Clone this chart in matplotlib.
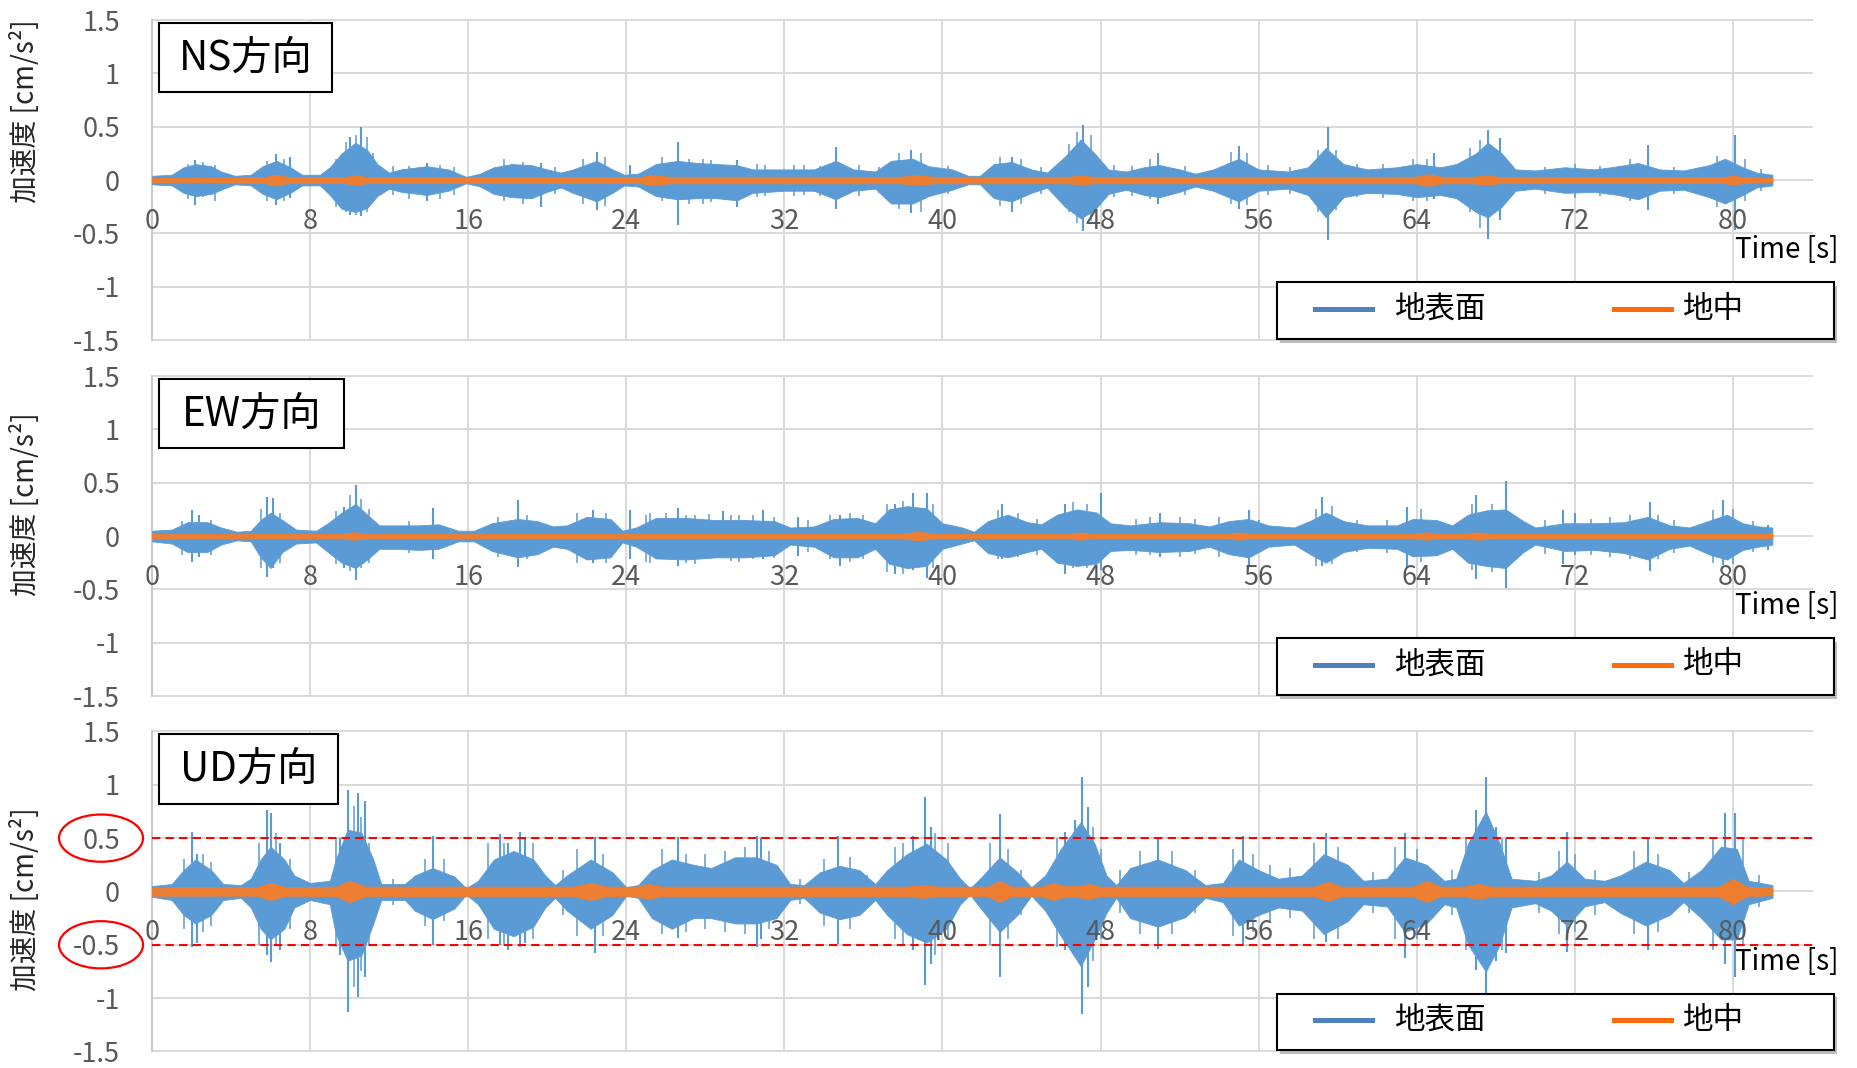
import numpy as np
import matplotlib
matplotlib.use("Agg")
import matplotlib.pyplot as plt
from matplotlib.patches import Rectangle, Ellipse
from matplotlib.lines import Line2D
from matplotlib import transforms

plt.rcParams['font.family'] = ['Noto Sans CJK JP', 'DejaVu Sans']

BLUE = '#5b9bd5'
ORANGE = '#ed7d31'
GRID = '#d9d9d9'

time_ticks = [0, 8, 16, 24, 32, 40, 48, 56, 64, 72, 80]
acc_ticks = [-1.5, -1, -0.5, 0, 0.5, 1, 1.5]
acc_tick_labels = ['-1.5', '-1', '-0.5', '0', '0.5', '1', '1.5']
panel_titles = ['NS方向', 'EW方向', 'UD方向']
legend_labels = ['地表面', '地中']
ud_limit = 0.5

# --- NS: ground surface envelope (body) ---
ns_t = [0, 1, 1.6, 2.2, 3.0, 3.5, 4.2, 5.0, 5.6, 6.3, 7.0, 7.6, 8.5, 9.0, 9.6, 10.3, 10.9, 11.4,
        12.0, 12.6, 13.9, 15.0, 15.9, 16.6, 17.3, 18.2, 19.2, 20.0, 20.7, 21.3, 22.5, 23.3, 23.9,
        24.6, 25.5, 26.6, 27.6, 28.6, 29.6, 30.4, 32.0, 33.5, 34.6, 35.5, 36.6, 37.4, 38.5, 39.3,
        40.5, 41.3, 41.9, 42.6, 43.5, 44.5, 45.3, 46.2, 47.0, 47.7, 48.4, 49.3, 50.2, 51.0, 52.0,
        52.8, 53.7, 55.0, 56.0, 57.5, 58.5, 59.4, 60.3, 61.5, 63.0, 64.0, 65.2, 66.0, 67.0, 67.6,
        68.3, 69.0, 70.0, 71.5, 73.0, 74.2, 75.2, 76.3, 77.5, 78.8, 79.6, 80.5, 81.2, 82.0]
ns_hi = [0.04, 0.05, 0.12, 0.15, 0.13, 0.08, 0.04, 0.05, 0.13, 0.18, 0.12, 0.05, 0.05, 0.12, 0.25,
         0.35, 0.28, 0.15, 0.07, 0.10, 0.13, 0.10, 0.03, 0.06, 0.12, 0.15, 0.14, 0.10, 0.07, 0.10,
         0.18, 0.10, 0.05, 0.06, 0.15, 0.18, 0.16, 0.15, 0.14, 0.10, 0.10, 0.10, 0.18, 0.10, 0.08,
         0.18, 0.20, 0.13, 0.10, 0.04, 0.04, 0.15, 0.17, 0.10, 0.07, 0.22, 0.38, 0.25, 0.10, 0.08,
         0.12, 0.14, 0.10, 0.06, 0.10, 0.20, 0.10, 0.08, 0.12, 0.30, 0.15, 0.10, 0.12, 0.15, 0.12,
         0.15, 0.25, 0.35, 0.25, 0.10, 0.09, 0.12, 0.10, 0.13, 0.16, 0.10, 0.09, 0.14, 0.20, 0.12,
         0.07, 0.05]
ns_lo = [-0.04, -0.05, -0.12, -0.15, -0.13, -0.09, -0.04, -0.05, -0.13, -0.18, -0.12, -0.05, -0.05,
         -0.14, -0.27, -0.30, -0.26, -0.15, -0.08, -0.11, -0.14, -0.10, -0.03, -0.06, -0.13, -0.16,
         -0.17, -0.11, -0.07, -0.12, -0.20, -0.12, -0.05, -0.06, -0.15, -0.18, -0.17, -0.17, -0.19,
         -0.12, -0.10, -0.10, -0.18, -0.10, -0.08, -0.22, -0.22, -0.15, -0.09, -0.04, -0.04, -0.17,
         -0.20, -0.12, -0.07, -0.25, -0.36, -0.28, -0.13, -0.09, -0.14, -0.16, -0.11, -0.06, -0.10,
         -0.20, -0.10, -0.08, -0.14, -0.35, -0.16, -0.12, -0.13, -0.16, -0.14, -0.17, -0.30, -0.35,
         -0.25, -0.10, -0.08, -0.12, -0.11, -0.14, -0.18, -0.10, -0.09, -0.16, -0.22, -0.14, -0.07,
         -0.05]
# NS: largest peaks
ns_pk_t = [2.2, 6.3, 7.0, 10.0, 10.6, 13.9, 19.7, 22.5, 24.2, 26.6, 29.6, 34.6, 38.4, 43.5, 47.1,
           50.9, 55.0, 59.5, 64.9, 67.6, 68.2, 75.7, 80.1]
ns_pk_hi = [0.19, 0.24, 0.22, 0.40, 0.50, 0.16, 0.16, 0.26, 0.14, 0.36, 0.19, 0.31, 0.28, 0.22, 0.52,
            0.25, 0.32, 0.50, 0.25, 0.47, 0.39, 0.33, 0.42]
ns_pk_lo = [-0.23, -0.23, -0.17, -0.33, -0.34, -0.20, -0.25, -0.28, -0.06, -0.42, -0.25, -0.27, -0.31,
            -0.30, -0.48, -0.22, -0.27, -0.56, -0.18, -0.55, -0.37, -0.28, -0.47]
# NS: smaller peaks
ns_sub_t = [1.8, 2.6, 3.2, 5.8, 6.7, 9.3, 9.8, 10.3, 10.9, 11.2, 13.0, 14.6, 17.8, 18.8, 21.8, 22.9,
            25.8, 27.2, 28.3, 30.6, 33.0, 37.8, 38.9, 42.9, 44.0, 46.4, 46.8, 47.5, 50.5, 54.6, 55.4,
            59.0, 59.9, 63.8, 64.5, 66.7, 67.2, 74.8, 79.2, 80.6,
            12.2, 15.3, 20.4, 27.9, 31.0, 32.5, 33.8, 35.8, 36.8, 40.3, 45.0, 48.7, 49.6, 52.3, 56.5,
            57.6, 61.0, 62.3, 70.5, 72.0, 73.3, 77.0, 81.4]
ns_sub_hi = [0.15, 0.17, 0.14, 0.18, 0.20, 0.20, 0.36, 0.42, 0.40, 0.25, 0.13, 0.14, 0.20, 0.17,
             0.20, 0.22, 0.22, 0.20, 0.19, 0.15, 0.14, 0.25, 0.25, 0.22, 0.20, 0.34, 0.45, 0.42,
             0.20, 0.26, 0.25, 0.28, 0.28, 0.20, 0.20, 0.30, 0.38, 0.20, 0.23, 0.20,
             0.13, 0.12, 0.12, 0.20, 0.14, 0.14, 0.13, 0.14, 0.12, 0.13, 0.12, 0.14, 0.13, 0.13,
             0.14, 0.12, 0.15, 0.15, 0.12, 0.15, 0.13, 0.12, 0.10]
ns_sub_lo = [-0.18, -0.16, -0.20, -0.20, -0.20, -0.25, -0.30, -0.33, -0.30, -0.20, -0.18, -0.18,
             -0.20, -0.22, -0.22, -0.24, -0.20, -0.22, -0.21, -0.16, -0.14, -0.27, -0.30, -0.24,
             -0.22, -0.30, -0.40, -0.38, -0.18, -0.22, -0.23, -0.30, -0.28, -0.20, -0.20, -0.30,
             -0.45, -0.20, -0.25, -0.20,
             -0.14, -0.14, -0.13, -0.22, -0.15, -0.15, -0.15, -0.15, -0.12, -0.13, -0.13, -0.16,
             -0.15, -0.14, -0.14, -0.13, -0.16, -0.17, -0.13, -0.17, -0.15, -0.13, -0.10]
# NS: underground record
ns_in_t = [0, 5.6, 6.3, 7.0, 9.6, 10.3, 11.0, 24.6, 25.3, 26.2, 37.8, 38.7, 39.6, 46.4, 47.0, 47.6,
           63.9, 64.6, 65.3, 66.8, 67.6, 68.3, 79.3, 80.0, 80.7, 82.0]
ns_in_amp = [0.02, 0.025, 0.05, 0.025, 0.025, 0.045, 0.025, 0.025, 0.05, 0.03, 0.03, 0.045, 0.03,
             0.03, 0.045, 0.03, 0.03, 0.055, 0.03, 0.03, 0.045, 0.025, 0.025, 0.04, 0.025, 0.02]

# --- EW ---
ew_t = [0, 1.0, 1.8, 2.8, 3.5, 4.3, 5.0, 5.5, 6.0, 6.6, 7.3, 8.3, 8.9, 9.6, 10.3, 10.9, 11.5, 12.5,
        13.5, 14.5, 15.5, 16.3, 17.2, 18.5, 19.5, 20.3, 21.0, 22.0, 23.2, 23.8, 24.5, 25.5, 27.0,
        28.5, 30.0, 31.5, 32.3, 33.5, 34.5, 35.7, 36.6, 37.3, 38.2, 39.2, 40.0, 41.0, 41.6, 42.3,
        43.3, 44.3, 45.0, 45.8, 46.8, 47.8, 48.5, 49.5, 51.0, 52.5, 53.5, 54.5, 55.5, 56.5, 57.8,
        58.7, 59.4, 60.3, 61.5, 63.0, 63.8, 65.0, 65.8, 66.6, 67.5, 68.5, 69.4, 70.0, 71.5, 73.0,
        74.5, 75.7, 76.8, 77.8, 78.9, 79.7, 80.5, 81.3, 82.0]
ew_hi = [0.05, 0.06, 0.13, 0.13, 0.08, 0.04, 0.05, 0.15, 0.22, 0.15, 0.06, 0.05, 0.12, 0.22, 0.30,
         0.20, 0.10, 0.10, 0.10, 0.11, 0.05, 0.05, 0.12, 0.16, 0.14, 0.09, 0.10, 0.18, 0.16, 0.05,
         0.08, 0.17, 0.17, 0.15, 0.15, 0.14, 0.08, 0.09, 0.16, 0.17, 0.12, 0.25, 0.28, 0.26, 0.12,
         0.08, 0.04, 0.14, 0.20, 0.13, 0.11, 0.20, 0.25, 0.22, 0.12, 0.10, 0.13, 0.12, 0.09, 0.14,
         0.16, 0.10, 0.08, 0.15, 0.22, 0.14, 0.10, 0.10, 0.16, 0.15, 0.10, 0.20, 0.24, 0.25, 0.14,
         0.08, 0.12, 0.12, 0.13, 0.18, 0.10, 0.08, 0.15, 0.20, 0.12, 0.09, 0.08]
ew_lo = [-0.05, -0.07, -0.15, -0.15, -0.08, -0.04, -0.05, -0.20, -0.30, -0.15, -0.07, -0.06, -0.15,
         -0.25, -0.30, -0.22, -0.12, -0.12, -0.13, -0.12, -0.05, -0.05, -0.14, -0.20, -0.17, -0.10,
         -0.12, -0.22, -0.20, -0.06, -0.10, -0.21, -0.22, -0.20, -0.20, -0.18, -0.08, -0.10, -0.20,
         -0.20, -0.12, -0.26, -0.30, -0.28, -0.12, -0.07, -0.04, -0.16, -0.20, -0.15, -0.12, -0.25,
         -0.28, -0.26, -0.14, -0.13, -0.15, -0.14, -0.10, -0.17, -0.20, -0.10, -0.08, -0.18, -0.25,
         -0.15, -0.11, -0.12, -0.19, -0.18, -0.12, -0.25, -0.28, -0.30, -0.15, -0.08, -0.14, -0.13,
         -0.16, -0.22, -0.12, -0.09, -0.18, -0.22, -0.13, -0.10, -0.08]
ew_pk_t = [2.0, 2.4, 5.8, 6.1, 9.7, 10.3, 14.2, 18.5, 22.3, 24.2, 26.6, 28.9, 30.9, 32.7, 34.8, 37.6,
           38.5, 39.2, 43.0, 46.2, 48.0, 51.0, 55.5, 59.2, 63.5, 67.0, 68.5, 71.4, 72.0, 75.8, 79.5,
           81.8]
ew_pk_hi = [0.24, 0.20, 0.37, 0.36, 0.27, 0.48, 0.26, 0.34, 0.24, 0.24, 0.26, 0.23, 0.24, 0.18, 0.20,
            0.30, 0.40, 0.40, 0.30, 0.30, 0.40, 0.22, 0.24, 0.37, 0.27, 0.38, 0.52, 0.24, 0.22, 0.32,
            0.34, 0.10]
ew_pk_lo = [-0.24, -0.20, -0.38, -0.30, -0.30, -0.41, -0.22, -0.29, -0.25, -0.22, -0.28, -0.20, -0.22,
            -0.19, -0.28, -0.36, -0.32, -0.39, -0.22, -0.36, -0.32, -0.20, -0.28, -0.28, -0.29, -0.40,
            -0.49, -0.26, -0.18, -0.33, -0.27, -0.13]
ew_sub_t = [1.5, 3.0, 5.5, 6.5, 9.3, 10.0, 10.6, 11.0, 13.0, 17.5, 19.0, 21.5, 23.0, 25.2, 27.5, 29.7,
            35.3, 36.0, 37.2, 38.0, 39.5, 42.8, 43.8, 46.6, 47.3, 52.0, 58.9, 59.7, 64.2, 66.8, 67.8,
            74.8, 76.2, 79.0, 80.0,
            25.0, 26.0, 27.0, 28.2, 29.3, 30.4, 31.5, 33.2, 34.3, 44.8, 49.8, 50.5, 52.8, 54.0, 56.0,
            61.0, 62.5, 70.5, 72.8, 73.8, 77.0, 81.0]
ew_sub_hi = [0.14, 0.15, 0.25, 0.22, 0.23, 0.38, 0.35, 0.25, 0.14, 0.18, 0.20, 0.22, 0.22, 0.22,
             0.20, 0.20, 0.22, 0.20, 0.30, 0.33, 0.30, 0.24, 0.22, 0.32, 0.30, 0.18, 0.25, 0.28,
             0.25, 0.30, 0.30, 0.20, 0.20, 0.24, 0.25,
             0.20, 0.22, 0.20, 0.21, 0.20, 0.20, 0.18, 0.15, 0.20, 0.16, 0.16, 0.18, 0.16, 0.18,
             0.15, 0.15, 0.15, 0.15, 0.16, 0.18, 0.15, 0.14]
ew_sub_lo = [-0.18, -0.18, -0.30, -0.25, -0.26, -0.33, -0.30, -0.25, -0.16, -0.20, -0.22, -0.25,
             -0.25, -0.25, -0.26, -0.24, -0.24, -0.22, -0.34, -0.36, -0.30, -0.22, -0.20, -0.30,
             -0.30, -0.20, -0.28, -0.26, -0.24, -0.32, -0.34, -0.22, -0.22, -0.25, -0.26,
             -0.24, -0.20, -0.25, -0.22, -0.23, -0.22, -0.21, -0.15, -0.22, -0.18, -0.18, -0.18,
             -0.17, -0.20, -0.15, -0.15, -0.16, -0.17, -0.18, -0.20, -0.16, -0.15]
ew_in_t = [0, 9.5, 10.2, 11.0, 37.9, 38.8, 39.7, 46.4, 47.0, 47.6, 54.4, 55.0, 55.6, 63.8, 64.5, 65.2,
           66.4, 67.1, 67.8, 82.0]
ew_in_amp = [0.02, 0.02, 0.035, 0.02, 0.02, 0.04, 0.02, 0.02, 0.035, 0.02, 0.02, 0.035, 0.02, 0.02,
             0.035, 0.02, 0.02, 0.035, 0.02, 0.02]

# --- UD ---
ud_t = [0, 1.0, 1.6, 2.2, 3.0, 3.6, 4.5, 5.0, 5.5, 6.0, 6.7, 7.2, 8.0, 9.0, 9.3, 9.9, 10.6, 11.2,
        11.6, 12.8, 13.3, 14.2, 15.3, 15.9, 16.5, 17.3, 18.3, 19.3, 19.9, 20.4, 21.0, 22.2, 23.3,
        24.0, 24.6, 25.3, 26.3, 27.4, 28.3, 29.5, 30.6, 31.6, 32.3, 33.0, 33.8, 34.8, 35.8, 36.6,
        37.2, 38.2, 39.2, 40.2, 40.9, 41.4, 41.9, 42.9, 43.8, 44.5, 45.2, 46.0, 47.0, 47.7, 48.3,
        48.8, 49.5, 50.9, 52.3, 53.3, 54.2, 55.0, 56.0, 57.0, 58.2, 59.3, 60.5, 61.3, 62.5, 63.4,
        64.5, 65.4, 66.0, 66.6, 67.5, 68.2, 68.8, 70.0, 70.8, 71.6, 72.5, 73.5, 74.3, 75.6, 76.8,
        77.5, 78.4, 79.4, 80.2, 80.8, 82.0]
ud_hi = [0.05, 0.07, 0.20, 0.30, 0.20, 0.07, 0.06, 0.12, 0.30, 0.42, 0.30, 0.15, 0.08, 0.10, 0.30,
         0.58, 0.55, 0.30, 0.07, 0.07, 0.15, 0.22, 0.14, 0.03, 0.10, 0.30, 0.38, 0.30, 0.15, 0.06,
         0.15, 0.30, 0.18, 0.04, 0.06, 0.20, 0.30, 0.25, 0.22, 0.32, 0.32, 0.25, 0.07, 0.06, 0.18,
         0.24, 0.20, 0.07, 0.20, 0.35, 0.45, 0.30, 0.12, 0.03, 0.12, 0.32, 0.18, 0.04, 0.15, 0.40,
         0.65, 0.45, 0.15, 0.06, 0.22, 0.30, 0.20, 0.06, 0.08, 0.30, 0.20, 0.12, 0.15, 0.35, 0.25,
         0.10, 0.12, 0.32, 0.25, 0.10, 0.12, 0.45, 0.75, 0.45, 0.12, 0.10, 0.15, 0.28, 0.12, 0.10,
         0.15, 0.28, 0.20, 0.08, 0.20, 0.42, 0.40, 0.10, 0.06]
ud_lo = [-0.05, -0.08, -0.22, -0.30, -0.22, -0.08, -0.06, -0.15, -0.35, -0.45, -0.35, -0.15, -0.08,
         -0.12, -0.40, -0.65, -0.60, -0.30, -0.08, -0.08, -0.18, -0.26, -0.16, -0.03, -0.12, -0.35,
         -0.42, -0.33, -0.15, -0.06, -0.18, -0.35, -0.22, -0.04, -0.06, -0.25, -0.35, -0.25, -0.25,
         -0.30, -0.30, -0.25, -0.08, -0.06, -0.20, -0.26, -0.22, -0.08, -0.22, -0.40, -0.48, -0.35,
         -0.12, -0.03, -0.15, -0.38, -0.22, -0.04, -0.18, -0.42, -0.70, -0.45, -0.20, -0.06, -0.25,
         -0.33, -0.24, -0.06, -0.10, -0.32, -0.22, -0.15, -0.18, -0.40, -0.28, -0.12, -0.14, -0.38,
         -0.30, -0.12, -0.15, -0.50, -0.75, -0.50, -0.15, -0.11, -0.18, -0.32, -0.14, -0.10, -0.20,
         -0.32, -0.22, -0.10, -0.25, -0.45, -0.45, -0.12, -0.06]
ud_pk_t = [2.0, 2.3, 5.8, 6.0, 6.5, 9.5, 9.9, 10.4, 10.8, 14.2, 17.6, 18.0, 18.6, 18.9, 22.4, 26.6,
           30.6, 30.8, 34.7, 38.5, 39.1, 39.4, 42.9, 46.2, 46.7, 47.05, 47.35, 50.9, 55.2, 59.4,
           63.4, 67.0, 67.5, 68.0, 68.5, 71.6, 75.7, 79.6, 80.1]
ud_pk_hi = [0.56, 0.35, 0.76, 0.74, 0.45, 0.50, 0.95, 0.92, 0.85, 0.52, 0.54, 0.45, 0.56, 0.50, 0.51,
            0.51, 0.52, 0.50, 0.52, 0.52, 0.89, 0.60, 0.73, 0.56, 0.67, 1.07, 0.79, 0.50, 0.52, 0.55,
            0.55, 0.76, 1.07, 0.60, 0.50, 0.56, 0.51, 0.74, 0.74]
ud_pk_lo = [-0.52, -0.48, -0.60, -0.66, -0.55, -0.60, -1.13, -0.99, -0.80, -0.50, -0.50, -0.55, -0.52,
            -0.48, -0.58, -0.44, -0.52, -0.45, -0.49, -0.55, -0.88, -0.68, -0.80, -0.55, -0.60, -1.15,
            -0.90, -0.54, -0.49, -0.47, -0.62, -0.74, -0.97, -0.65, -0.58, -0.57, -0.55, -0.68, -0.80]
ud_sub_t = [1.6, 2.6, 3.0, 5.4, 6.3, 7.0, 9.3, 10.2, 10.6, 11.0, 13.8, 14.8, 17.0, 17.8, 19.3, 21.5,
            22.8, 25.8, 27.0, 29.0, 30.0, 31.2, 34.0, 35.3, 37.6, 38.0, 39.6, 40.3, 42.4, 43.3, 45.8,
            47.6, 48.0, 50.0, 51.6, 54.7, 55.7, 58.8, 60.0, 62.9, 64.0, 66.5, 68.3, 71.2, 72.0, 75.0,
            76.2, 79.0, 80.5,
            12.2, 20.8, 28.0, 32.8, 36.2, 44.0, 49.0, 52.8, 56.6, 57.6, 61.8, 65.8, 70.2, 73.0, 77.8,
            81.3]
ud_sub_hi = [0.30, 0.35, 0.28, 0.45, 0.55, 0.30, 0.50, 0.80, 0.70, 0.45, 0.30, 0.30, 0.45, 0.45,
             0.45, 0.40, 0.35, 0.40, 0.35, 0.38, 0.42, 0.38, 0.30, 0.32, 0.42, 0.45, 0.55, 0.45,
             0.45, 0.40, 0.50, 0.60, 0.40, 0.38, 0.38, 0.40, 0.35, 0.45, 0.42, 0.42, 0.40, 0.50,
             0.50, 0.38, 0.35, 0.38, 0.35, 0.50, 0.50,
             0.12, 0.20, 0.35, 0.12, 0.15, 0.20, 0.20, 0.20, 0.25, 0.22, 0.18, 0.20, 0.18, 0.20,
             0.18, 0.15]
ud_sub_lo = [-0.35, -0.38, -0.32, -0.50, -0.50, -0.35, -0.52, -0.90, -0.75, -0.50, -0.32, -0.28,
             -0.45, -0.50, -0.45, -0.42, -0.42, -0.40, -0.38, -0.38, -0.40, -0.35, -0.32, -0.35,
             -0.45, -0.50, -0.60, -0.45, -0.50, -0.45, -0.52, -0.65, -0.45, -0.40, -0.40, -0.42,
             -0.38, -0.45, -0.45, -0.45, -0.45, -0.55, -0.55, -0.40, -0.38, -0.40, -0.38, -0.55,
             -0.50,
             -0.13, -0.22, -0.35, -0.12, -0.15, -0.22, -0.20, -0.20, -0.28, -0.25, -0.20, -0.22,
             -0.20, -0.22, -0.20, -0.15]
ud_in_t = [0, 5.3, 6.0, 6.8, 9.3, 10.0, 10.8, 21.3, 22.2, 23.0, 24.5, 25.1, 25.8, 38.2, 39.0, 39.8,
           42.3, 42.9, 43.5, 45.0, 45.6, 46.2, 46.8, 47.4, 48.0, 58.8, 59.5, 60.2, 63.8, 64.5, 65.2,
           66.4, 67.1, 67.8, 79.3, 80.0, 80.7, 82.0]
ud_in_amp = [0.04, 0.04, 0.08, 0.04, 0.045, 0.10, 0.045, 0.045, 0.08, 0.045, 0.045, 0.07, 0.045,
             0.045, 0.06, 0.045, 0.045, 0.10, 0.045, 0.045, 0.08, 0.05, 0.05, 0.07, 0.045, 0.045,
             0.09, 0.045, 0.045, 0.10, 0.045, 0.045, 0.07, 0.045, 0.045, 0.12, 0.045, 0.035]

# axes rectangles (figure fraction)
panel_bottoms = [0.6816, 0.3483, 0.0155]
ylabel_pos = [0.716, 0.601, 0.475]
title_box_w = [0.1042, 0.1114, 0.1078]

fig = plt.figure(figsize=(18.58, 10.68), dpi=100)

panels = [
    (ns_t, ns_hi, ns_lo, ns_pk_t, ns_pk_hi, ns_pk_lo, ns_sub_t, ns_sub_hi, ns_sub_lo, ns_in_t, ns_in_amp),
    (ew_t, ew_hi, ew_lo, ew_pk_t, ew_pk_hi, ew_pk_lo, ew_sub_t, ew_sub_hi, ew_sub_lo, ew_in_t, ew_in_amp),
    (ud_t, ud_hi, ud_lo, ud_pk_t, ud_pk_hi, ud_pk_lo, ud_sub_t, ud_sub_hi, ud_sub_lo, ud_in_t, ud_in_amp),
]

for i, (t, hi, lo, pk_t, pk_hi, pk_lo, sub_t, sub_hi, sub_lo, in_t, in_amp) in enumerate(panels):
    ax = fig.add_axes([0.0818, panel_bottoms[i], 0.8934, 0.2996])
    ax.set_xlim(0, 84)
    ax.set_ylim(-1.5, 1.5)

    # grid
    for y in acc_ticks:
        ax.axhline(y, color=GRID, lw=1.4, zorder=0, clip_on=False)
    for x in time_ticks:
        ax.axvline(x, color='#c8c8c8' if x == 0 else GRID, lw=1.4, zorder=0, clip_on=False)

    # ground surface
    ax.fill_between(t, lo, hi, color=BLUE, lw=0.6, zorder=2)
    ax.vlines(sub_t, sub_lo, sub_hi, color=BLUE, lw=1.1, zorder=2)
    ax.vlines(pk_t, pk_lo, pk_hi, color=BLUE, lw=1.5, zorder=2)
    # underground
    amp = np.array(in_amp)
    ax.fill_between(in_t, -amp, amp, color=ORANGE, lw=0.6, zorder=3)

    for s in ax.spines.values():
        s.set_visible(False)
    ax.spines['bottom'].set_position(('data', 0))
    ax.set_xticks(time_ticks)
    ax.set_yticks(acc_ticks, acc_tick_labels)
    ax.tick_params(length=0, labelsize=19.5, labelcolor='#595959')
    ax.tick_params(axis='x', pad=20)
    ax.tick_params(axis='y', pad=23)
    # time labels sit on top of the traces
    ax.xaxis.set_zorder(3.5)

    ax.text(80.1, -0.66, 'Time [s]', fontsize=20, color='black', ha='left', va='center',
            clip_on=False, zorder=5)
    ax.text(-0.0759, ylabel_pos[i], '加速度 [cm/s²]', rotation=90, transform=ax.transAxes,
            ha='center', va='center', fontsize=20, color='#262626')

    tr = ax.transAxes
    # direction box
    bw = title_box_w[i]
    ax.add_patch(Rectangle((0.0042, 0.774), bw, 0.218, transform=tr, fc='white', ec='black',
                           lw=1.5, zorder=6))
    ax.text(0.0042 + bw / 2, 0.881, panel_titles[i], transform=tr, fontsize=29, ha='center',
            va='center', zorder=7)

    # legend box
    ax.add_patch(Rectangle((0.6795, -0.008), 0.3355, 0.178, transform=tr, fc='#bdbdbd',
                           ec='none', clip_on=False, zorder=6))
    ax.add_patch(Rectangle((0.6777, 0.003), 0.3355, 0.178, transform=tr, fc='white',
                           ec='black', lw=1.5, clip_on=False, zorder=7))
    ax.add_line(Line2D([0.7006, 0.7349], [0.097, 0.097], transform=tr, color='#4f81bd', lw=3.6,
                       clip_on=False, zorder=8))
    ax.add_line(Line2D([0.8807, 0.915], [0.097, 0.097], transform=tr, color='#fe6a0a', lw=3.6,
                       clip_on=False, zorder=8))
    ax.text(0.7488, 0.097, legend_labels[0], transform=tr, fontsize=22, ha='left', va='center',
            zorder=8)
    ax.text(0.9223, 0.097, legend_labels[1], transform=tr, fontsize=22, ha='left', va='center',
            zorder=8)

    if i == 2:
        blend = transforms.blended_transform_factory(ax.transAxes, ax.transData)
        for y in (ud_limit, -ud_limit):
            ax.axhline(y, color='red', lw=1.5, ls=(0, (4, 2.5)), zorder=4)
            ax.add_patch(Ellipse((-0.0307, y), 0.0506, 0.443, transform=blend, fc='none',
                                 ec='red', lw=1.6, clip_on=False, zorder=5))

fig.savefig('out.png', dpi=100)
